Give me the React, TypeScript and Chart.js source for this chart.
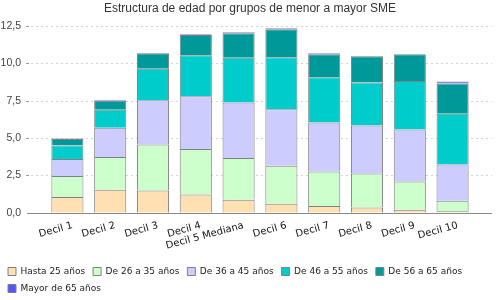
import React, { useEffect, useRef } from "react";
import { Chart, registerables } from "chart.js";

Chart.register(...registerables);

const titleText = "Estructura de edad por grupos de menor a mayor SME";
const categories = ["Decil 1", "Decil 2", "Decil 3", "Decil 4", "Decil 5 Mediana", "Decil 6", "Decil 7", "Decil 8", "Decil 9", "Decil 10"];
const seriesNames = ["Hasta 25 años", "De 26 a 35 años", "De 36 a 45 años", "De 46 a 55 años", "De 56 a 65 años", "Mayor de 65 años"];
const hasta25 = [1.05, 1.54, 1.48, 1.21, 0.87, 0.6, 0.44, 0.34, 0.2, 0.09];
const de26a35 = [1.41, 2.19, 3.08, 3.06, 2.79, 2.55, 2.31, 2.28, 1.88, 0.71];
const de36a45 = [1.14, 1.95, 2.96, 3.53, 3.72, 3.78, 3.29, 3.22, 3.49, 2.42];
const de46a55 = [0.9, 1.22, 2.12, 2.74, 3.0, 3.47, 3.02, 2.88, 3.24, 3.4];
const de56a65 = [0.44, 0.6, 1.03, 1.36, 1.63, 1.88, 1.54, 1.75, 1.79, 2.03];
const mayor65 = [0.03, 0.05, 0.03, 0.05, 0.07, 0.07, 0.07, 0.02, 0.01, 0.13];
const yTickValues = [0, 2.5, 5, 7.5, 10, 12.5];
const yTickLabels = ["0,0", "2,5", "5,0", "7,5", "10,0", "12,5"];

const seriesValues = [hasta25, de26a35, de36a45, de46a55, de56a65, mayor65];
const seriesColors = ["#FFE0B2", "#CCFFCC", "#CCCCFF", "#00CCCC", "#009999", "#5555FF"];

const extGrid = {
  id: "extGrid",
  beforeDatasetsDraw(chart: any) {
    const { ctx, chartArea, scales } = chart;
    const y = scales.y;
    const l = chartArea.left - 18;
    const r = chartArea.right + 18;
    ctx.save();
    yTickValues.forEach((v) => {
      const py = Math.round(y.getPixelForValue(v)) + 0.5;
      ctx.lineWidth = 1;
      if (v === 0) {
        ctx.setLineDash([]);
        ctx.strokeStyle = "#8a8a8a";
        ctx.beginPath();
        ctx.moveTo(l - 1, py);
        ctx.lineTo(r, py);
        ctx.stroke();
      } else {
        ctx.setLineDash([]);
        ctx.strokeStyle = "#9a9a9a";
        ctx.beginPath();
        ctx.moveTo(l - 2, py);
        ctx.lineTo(l + 1, py);
        ctx.stroke();
        ctx.setLineDash([2, 3]);
        ctx.strokeStyle = "#d4d4d4";
        ctx.beginPath();
        ctx.moveTo(l + 3, py);
        ctx.lineTo(r, py);
        ctx.stroke();
      }
    });
    ctx.restore();
  },
};

export default function App() {
  const ref = useRef<HTMLCanvasElement | null>(null);
  useEffect(() => {
    document.body.style.margin = "0";
    const canvas = ref.current;
    if (!canvas) return;
    const chart = new Chart(canvas, {
      type: "bar",
      data: {
        labels: categories,
        datasets: seriesNames.map((name, i) => ({
          label: name,
          data: seriesValues[i],
          backgroundColor: seriesColors[i],
          borderColor: "#808080",
          borderWidth: 1,
          categoryPercentage: 1,
          barPercentage: 0.75,
        })),
      },
      options: {
        animation: false,
        responsive: false,
        devicePixelRatio: 1,
        layout: { padding: { left: 0, right: 0, top: 0, bottom: -3 } },
        plugins: {
          title: {
            display: true,
            text: titleText,
            color: "#333",
            font: { family: "Liberation Sans", size: 12, weight: "normal" },
            padding: { top: 1, bottom: 10.6 },
          },
          legend: {
            position: "bottom",
            align: "start",
            labels: {
              boxWidth: 8,
              boxHeight: 8,
              padding: 8,
              color: "#222",
              font: { family: "DejaVu Sans", size: 9 },
            },
          },
          tooltip: { enabled: false },
        },
        scales: {
          x: {
            stacked: true,
            grid: { display: false, drawTicks: false },
            border: { display: false },
            ticks: {
              autoSkip: false,
              minRotation: 15,
              maxRotation: 15,
              padding: 7,
              labelOffset: 5,
              color: "#111",
              font: { family: "DejaVu Sans", size: 10 },
            },
          },
          y: {
            stacked: true,
            min: 0,
            max: 12.5,
            grid: { display: false, drawTicks: true, tickLength: 22 },
            border: { display: false },
            afterFit: (s: any) => {
              s.width = 46;
            },
            afterBuildTicks: (s: any) => {
              s.ticks = yTickValues.map((v) => ({ value: v }));
            },
            ticks: {
              padding: 3,
              color: "#444",
              font: { family: "Liberation Sans", size: 10.5 },
              callback: (v: any) => {
                const idx = yTickValues.indexOf(Number(v));
                return idx >= 0 ? yTickLabels[idx] : "";
              },
            },
          },
          yRight: {
            type: "linear",
            position: "right",
            display: true,
            grid: { display: false, drawTicks: false },
            border: { display: false },
            ticks: { display: false },
            afterFit: (s: any) => {
              s.width = 26;
            },
          },
        },
      },
      plugins: [extGrid],
    });
    return () => chart.destroy();
  }, []);
  return (
    <div style={{ position: "absolute", left: 0, top: 0, width: 500, height: 300 }}>
      <canvas ref={ref} width={500} height={300} />
    </div>
  );
}
